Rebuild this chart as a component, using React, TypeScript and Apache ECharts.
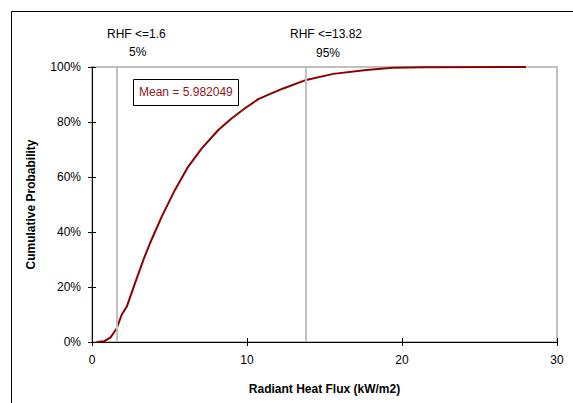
import React, { useEffect, useRef } from "react";
import * as echarts from "echarts";

const rhfValues = [0.3, 0.8, 1.2, 1.6, 1.92, 2.24, 2.77, 3.31, 3.74, 4.5, 5.35, 6.2, 7.08, 8.15, 9.0, 9.87, 10.73, 11.5, 12.34, 13.82, 15.57, 17.7, 19.4, 21.4, 28];
const cumProb = [0, 0.003, 0.017, 0.05, 0.1, 0.128, 0.213, 0.298, 0.359, 0.456, 0.553, 0.637, 0.704, 0.771, 0.813, 0.85, 0.883, 0.902, 0.922, 0.953, 0.975, 0.989, 0.997, 0.999, 1.0];
const percentileLines = [1.6, 13.82];
const percentileLabels = [["RHF <=1.6", "5%"], ["RHF <=13.82", "95%"]];
const meanLabel = "Mean = 5.982049";

const FONT = "Liberation Sans, Arial, sans-serif";

export default function App() {
  const ref = useRef<HTMLDivElement>(null);
  useEffect(() => {
    const chart = echarts.init(ref.current!, null, { renderer: "svg" });
    const data = rhfValues.map((x, i) => [x, cumProb[i]]);
    chart.setOption({
      animation: false,
      backgroundColor: "#fff",
      textStyle: { fontFamily: FONT },
      grid: {
        left: 92, right: 16, top: 67, bottom: 61,
        show: true, borderColor: "#c0c0c0", borderWidth: 2, backgroundColor: "transparent",
      },
      xAxis: [
        {
          type: "value", min: 0, max: 30, interval: 10,
          name: "Radiant Heat Flux (kW/m2)", nameLocation: "middle", nameGap: 41,
          nameTextStyle: { fontFamily: FONT, fontSize: 12, fontWeight: "bold", color: "#000" },
          axisLine: { show: true, lineStyle: { color: "#000", width: 1 } },
          axisTick: { show: true, length: 4, lineStyle: { color: "#000" } },
          axisLabel: { fontFamily: FONT, fontSize: 12, color: "#000", margin: 12 },
          splitLine: { show: false },
        },
        {
          type: "value", min: 0, max: 30, interval: 10, position: "bottom",
          axisLine: { show: false },
          axisTick: { show: true, inside: true, length: 4, lineStyle: { color: "#000" } },
          axisLabel: { show: false },
          splitLine: { show: false },
        },
      ],
      yAxis: [
        {
          type: "value", min: 0, max: 1, interval: 0.2,
          name: "Cumulative Probability", nameLocation: "middle", nameGap: 55,
          nameTextStyle: { fontFamily: FONT, fontSize: 12, fontWeight: "bold", color: "#000" },
          axisLine: { show: true, lineStyle: { color: "#000", width: 1 } },
          axisTick: { show: true, length: 4, lineStyle: { color: "#000" } },
          axisLabel: {
            fontFamily: FONT, fontSize: 12, color: "#000", margin: 11,
            formatter: (v: number) => Math.round(v * 100) + "%",
          },
          splitLine: { show: false },
        },
        {
          type: "value", min: 0, max: 1, interval: 0.2, position: "left",
          axisLine: { show: false },
          axisTick: { show: true, inside: true, length: 4, lineStyle: { color: "#000" } },
          axisLabel: { show: false },
          splitLine: { show: false },
        },
      ],
      series: [
        {
          type: "line",
          data,
          showSymbol: false,
          smooth: false,
          lineStyle: { color: "#8b0000", width: 2 },
          itemStyle: { color: "#8b0000" },
          z: 3,
          markLine: {
            silent: true,
            symbol: ["none", "none"],
            label: { show: false },
            lineStyle: { color: "#c0c0c0", width: 2, type: "solid" },
            data: percentileLines.map((v) => ({ xAxis: v })),
          },
        },
      ],
      graphic: [
        {
          type: "rect", shape: { x: 11.5, y: 11.5, width: 700, height: 600 },
          style: { fill: "none", stroke: "#000", lineWidth: 1 }, silent: true,
        },
        {
          type: "text", left: 107, top: 28,
          style: { text: percentileLabels[0][0], font: "12px " + FONT, fill: "#000" },
        },
        {
          type: "text", left: 129, top: 46,
          style: { text: percentileLabels[0][1], font: "12px " + FONT, fill: "#000" },
        },
        {
          type: "text", left: 290, top: 28,
          style: { text: percentileLabels[1][0], font: "12px " + FONT, fill: "#000" },
        },
        {
          type: "text", left: 316, top: 47,
          style: { text: percentileLabels[1][1], font: "12px " + FONT, fill: "#000" },
        },
        {
          type: "rect", shape: { x: 133.5, y: 79.5, width: 105, height: 26 },
          style: { fill: "#fff", stroke: "#000", lineWidth: 1 }, z: 10,
        },
        {
          type: "text", left: 139, top: 86, z: 11,
          style: { text: meanLabel, font: "12px " + FONT, fill: "#8b1a1a" },
        },
      ],
    });
    return () => chart.dispose();
  }, []);
  return (
    <div
      ref={ref}
      style={{ position: "fixed", left: 0, top: 0, width: 573, height: 403 }}
    />
  );
}
